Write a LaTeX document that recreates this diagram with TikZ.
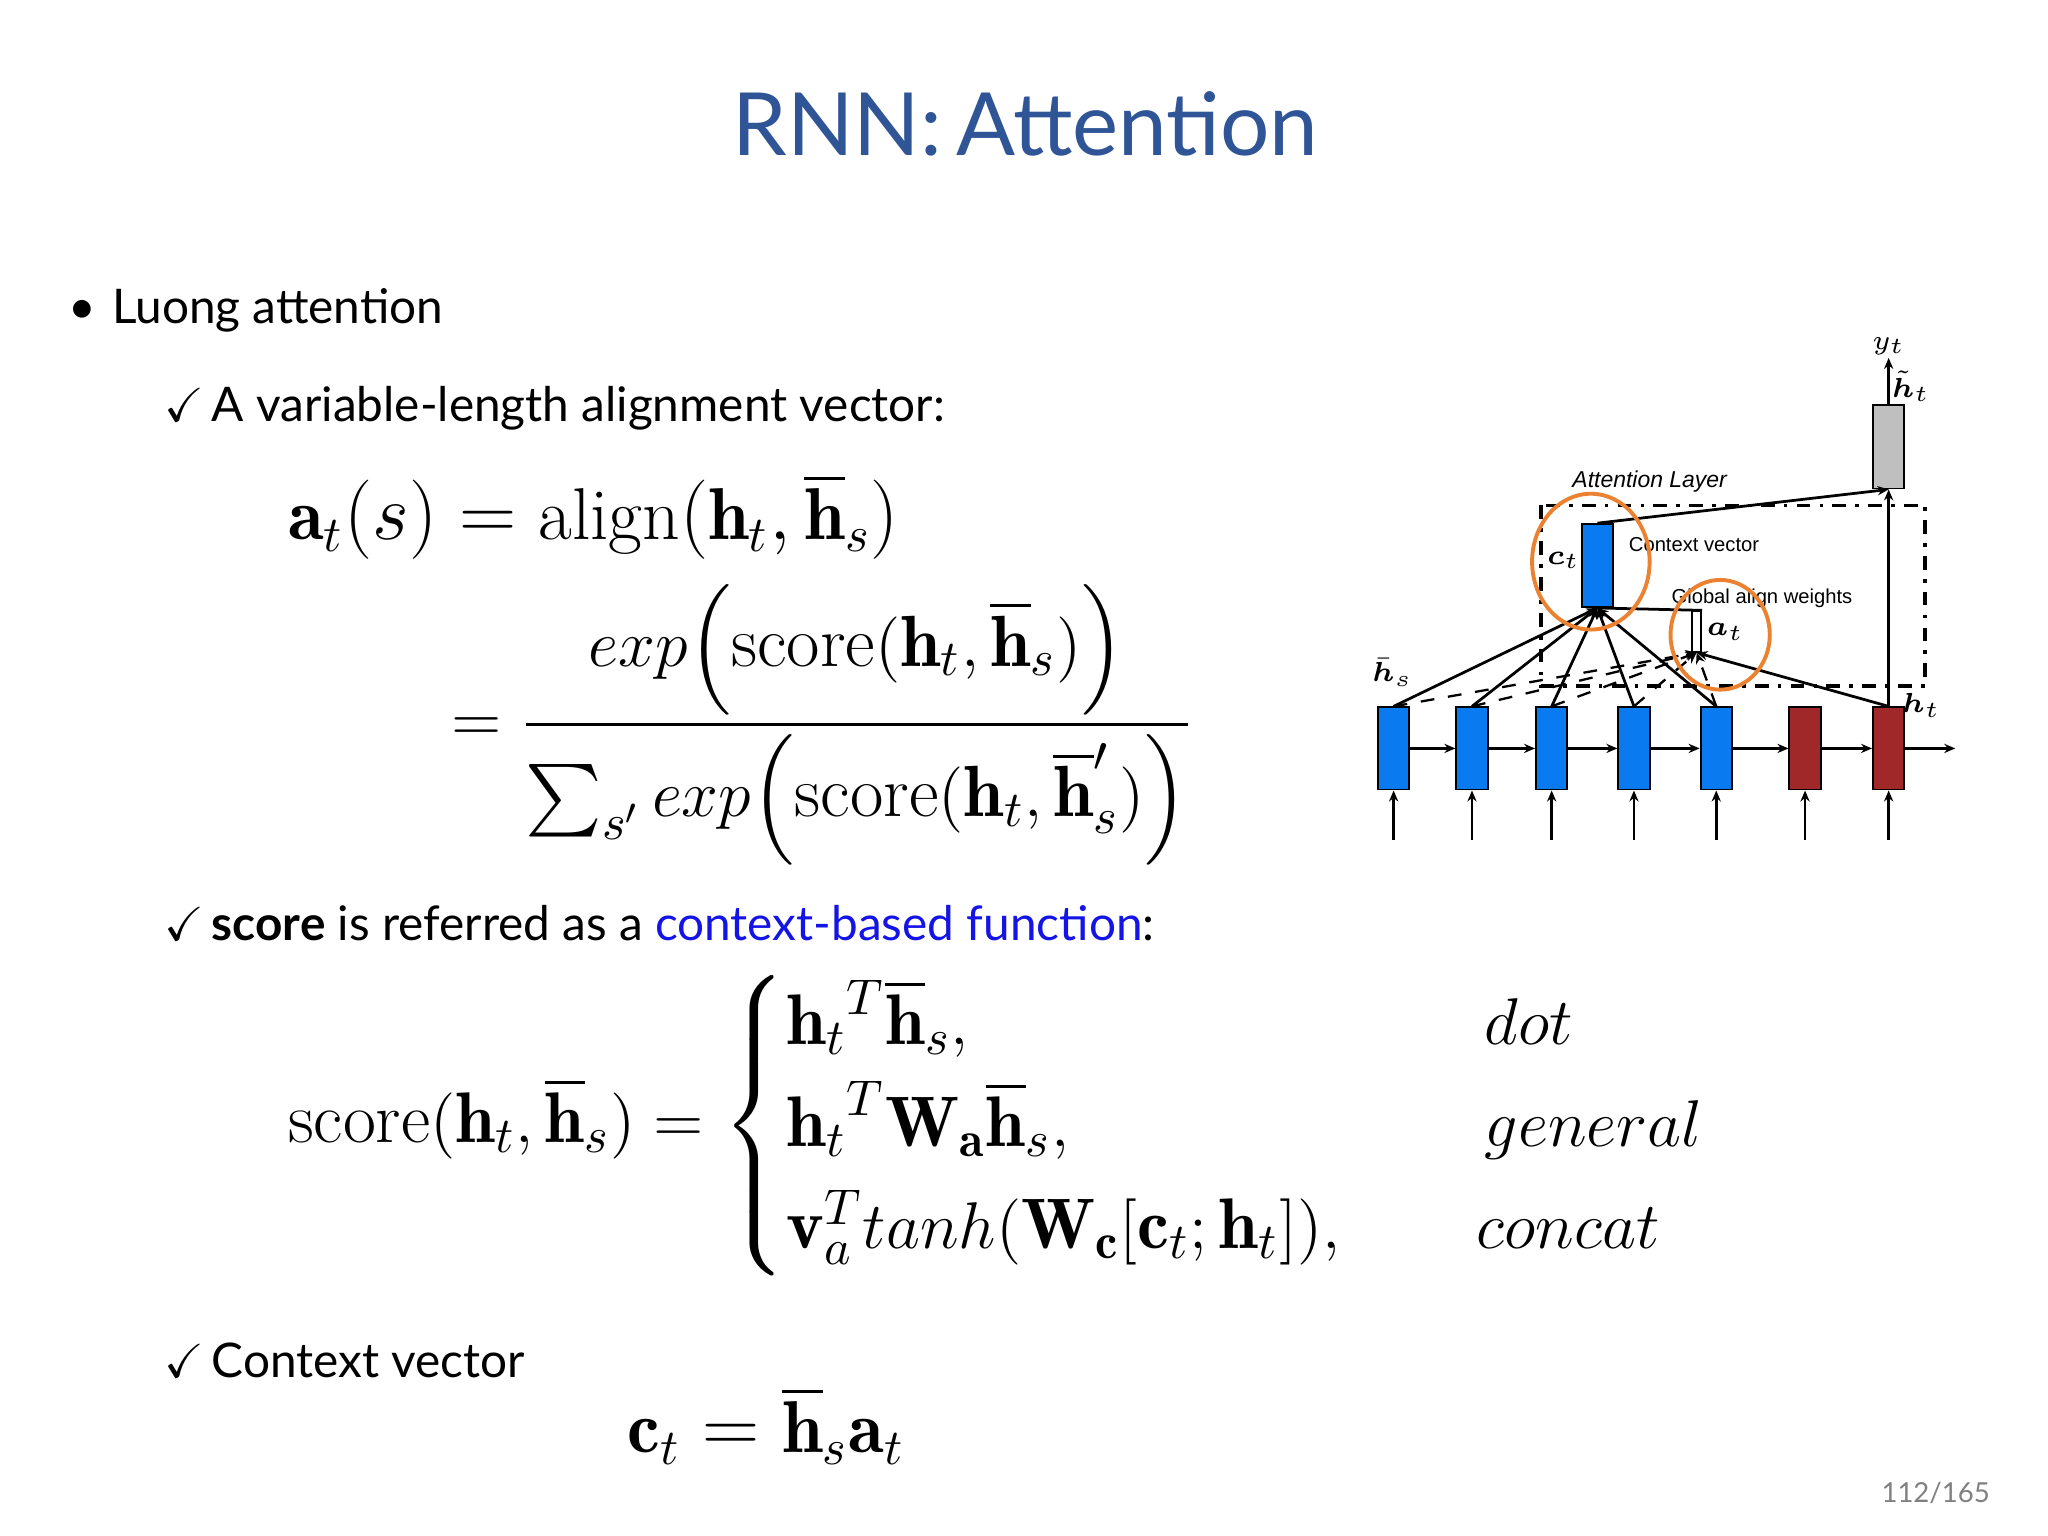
\documentclass[tikz,border=0pt]{standalone}
\usepackage{amsmath,amssymb}
\usepackage{fontspec}
\newfontfamily\gill{Lato}
\newfontfamily\arialf{Liberation Sans}
\usetikzlibrary{arrows.meta}
\definecolor{titleblue}{RGB}{47,85,151}
\definecolor{encblue}{RGB}{10,122,240}
\definecolor{decred}{RGB}{160,40,40}
\definecolor{ringorange}{RGB}{235,130,50}
\definecolor{linkblue}{RGB}{20,20,230}
\newcommand{\hb}{\overline{\mathbf{h}}}
\newcommand{\firstcol}[1]{\makebox[48mm][l]{$#1$}}
\begin{document}
\begin{tikzpicture}[x=0.1mm,y=-0.1mm,
    txt/.style={anchor=base west,inner sep=0pt,font=\gill\fontsize{10.4pt}{12pt}\selectfont},
    eq/.style={anchor=base west,inner sep=0pt,font=\fontsize{16pt}{19pt}\selectfont},
    cell/.style={draw,line width=0.4pt,minimum width=2.4mm,minimum height=6.3mm,inner sep=0pt},
    arr/.style={-{Stealth[length=2.4pt,width=2pt]},line width=0.6pt},
    small/.style={inner sep=0pt,font=\arialf\fontsize{4.4pt}{5pt}\selectfont},
    lbl/.style={inner sep=0pt,font=\fontsize{6pt}{7pt}\selectfont},
    ring/.style={draw=ringorange,line width=0.85pt}
  ]
  \useasboundingbox (0,0) rectangle (1568,1176);
  % title and text
  \node[font=\gill\fontsize{19pt}{22pt}\selectfont,text=titleblue] (title) at (785,95) {RNN:\,Attention};
  \node[txt] (b1) at (52,248) {\textbullet\hspace{1.2mm}Luong attention};
  \node[txt] (b2) at (125,323) {$\checkmark$\,A variable-length alignment vector:};
  \node[txt] (b3) at (125,720) {$\checkmark$\,\textbf{score} is referred as a \textcolor{linkblue}{context-based function}:};
  \node[txt] (b4) at (125,1055) {$\checkmark$\,Context vector};
  \node[font=\gill\fontsize{6pt}{8pt}\selectfont,text=gray] (page) at (1482,1143) {112/165};
  % equations
  \node[eq] (e1) at (220,413) {$\mathbf{a}_t(s) = \mathrm{align}(\mathbf{h}_t,\hb_s)$};
  \node[eq,anchor=west,font=\fontsize{15.8pt}{19pt}\selectfont] (e2) at (345,555) {$\displaystyle = \frac{exp\Big(\mathrm{score}(\mathbf{h}_t,\hb_s)\Big)}{\sum_{s'} exp\Big(\mathrm{score}(\mathbf{h}_t,\hb'_s)\Big)}$};
  \node[eq,anchor=west,font=\fontsize{15.6pt}{18.5pt}\selectfont] (e3) at (220,862) {$\mathrm{score}(\mathbf{h}_t,\hb_s) = \begin{cases}
      \firstcol{{\mathbf{h}_t}^T\hb_s,} & dot\\
      \firstcol{{\mathbf{h}_t}^T\mathbf{W_a}\hb_s,} & general\\
      \firstcol{\mathbf{v}_a^T tanh(\mathbf{W_c}[\mathbf{c}_t;\mathbf{h}_t]),} & \hspace{-0.6mm}concat
    \end{cases}$};
  \node[eq] (e4) at (480,1112) {$\mathbf{c}_t = \hb_s\mathbf{a}_t$};
  % diagram
  \draw[line width=0.8pt,dash dot] (1180,387) rectangle (1474,525);
  \node[small,font=\arialf\itshape\fontsize{5pt}{6pt}\selectfont] (attl) at (1263,369) {Attention Layer};
  \foreach \i/\x in {1/1067,2/1127,3/1188,4/1251,5/1314}
    \node[cell,fill=encblue] (c\i) at (\x,573) {};
  \foreach \i/\x in {6/1382,7/1446}
    \node[cell,fill=decred] (c\i) at (\x,573) {};
  \foreach \i/\x in {1/1067,2/1127,3/1188,4/1251,5/1314,6/1382,7/1446} {
    \coordinate (in\i) at (\x,643);
    \draw[arr] (in\i) -- (c\i.south);
  }
  \foreach \a/\b in {c1/c2,c2/c3,c3/c4,c4/c5,c5/c6,c6/c7}
    \draw[arr] (\a.east) -- (\b.west);
  \coordinate (out) at (1497,573);
  \draw[arr] (c7.east) -- (out);
  \node[cell,fill=encblue,minimum height=6.35mm] (ct) at (1223,433) {};
  \node[cell,fill=white,minimum width=0.7mm,minimum height=3.1mm] (at) at (1299,483.5) {};
  \node[cell,fill=gray!50,minimum width=2.35mm,minimum height=6.4mm] (gb) at (1446,342) {};
  \foreach \i in {1,...,5} {
    \draw[arr] (c\i.north) -- (ct.south);
    \draw[arr,dashed,line width=0.5pt] (c\i.north) -- (at.south);
  }
  \draw[arr] (c7.north) -- (at.south);
  \draw[line width=0.6pt] (ct.south) -- (at.north east);
  \draw[arr] (ct.north) -- (gb.south);
  \draw[arr] (c7.north) -- (gb.south);
  \coordinate (yt) at (1446,274);
  \draw[arr] (gb.north) -- (yt);
  \node[lbl,above=0.5pt] (ytl) at (yt) {$y_t$};
  \node[lbl] (htl) at (1463,296) {$\tilde{\boldsymbol{h}}_t$};
  \node[lbl] (ctl) at (1197,429) {$\boldsymbol{c}_t$};
  \node[lbl] (atl) at (1321,484) {$\boldsymbol{a}_t$};
  \node[lbl] (hsl) at (1066,515) {$\bar{\boldsymbol{h}}_s$};
  \node[lbl] (hl) at (1471,540) {$\boldsymbol{h}_t$};
  \node[small] (cvl) at (1297,417) {Context vector};
  \node[small] (gwl) at (1349,458) {Global align weights};
  \draw[ring] (1218,430) ellipse [x radius=45,y radius=52];
  \draw[ring] (1317,486) ellipse [x radius=38,y radius=42];
\end{tikzpicture}
\end{document}
